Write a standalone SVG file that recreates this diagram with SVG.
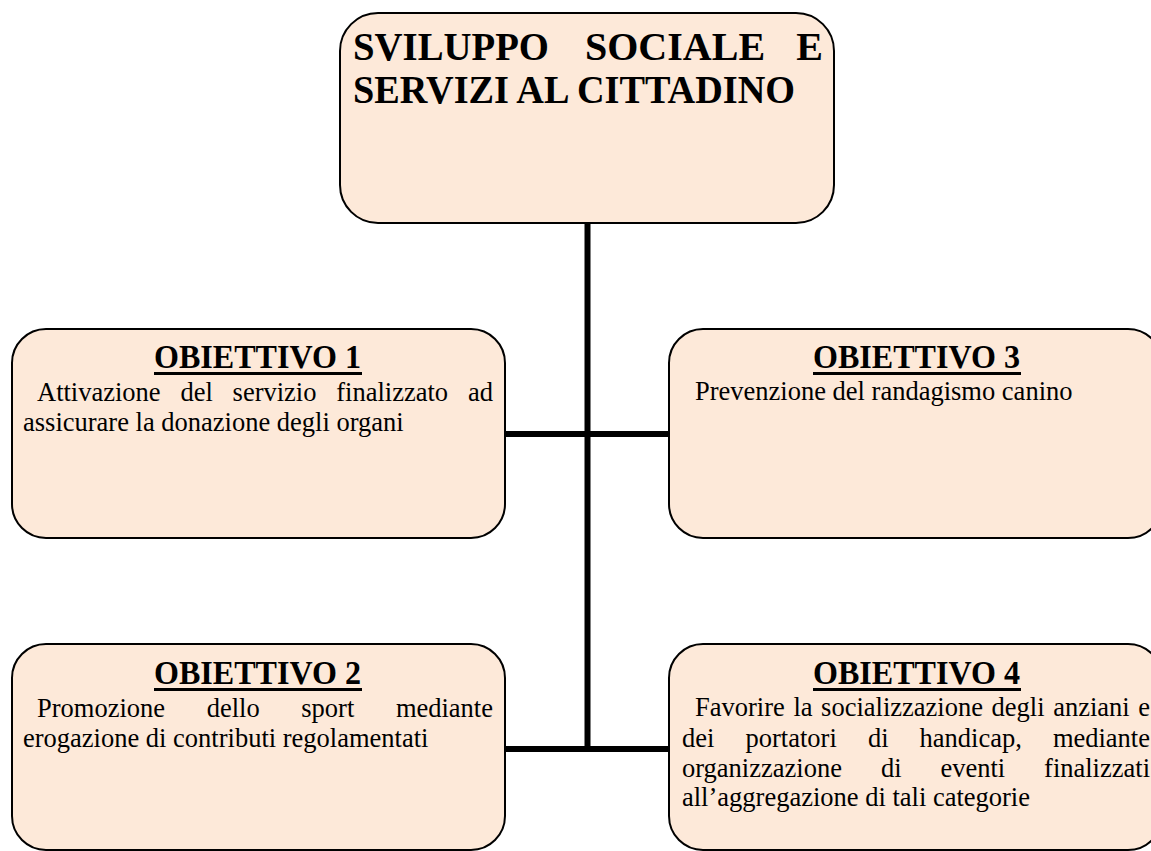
<svg xmlns="http://www.w3.org/2000/svg" width="1151" height="851" viewBox="0 0 1151 851">
<style>
.box{fill:#FDE9D9;stroke:#000;stroke-width:2}
.conn{stroke:#000;stroke-width:6;fill:none}
.title{font-family:"Liberation Serif","Times New Roman",serif;font-weight:bold;font-size:40px;fill:#000}
.head{font-family:"Liberation Serif","Times New Roman",serif;font-weight:bold;font-size:34px;fill:#000}
.body{font-family:"Liberation Serif","Times New Roman",serif;font-size:26.5px;fill:#000}
.ul{fill:#000}
</style>
<rect width="1151" height="851" fill="#fff"/>
<g id="connectors">
<line class="conn" x1="587.5" y1="223" x2="587.5" y2="752"/>
<line class="conn" x1="505" y1="434" x2="669" y2="434"/>
<line class="conn" x1="505" y1="749" x2="669" y2="749"/>
</g>
<g id="root">
<rect class="box" x="340" y="13" width="494" height="210" rx="38" ry="38"/>
<text class="title" y="60"><tspan x="353" textLength="196" lengthAdjust="spacingAndGlyphs">SVILUPPO</tspan><tspan x="585">SOCIALE</tspan><tspan x="823" text-anchor="end">E</tspan></text>
<text class="title" x="353" y="103" textLength="442" lengthAdjust="spacingAndGlyphs">SERVIZI AL CITTADINO</text>
</g>
<g id="obiettivo1">
<rect class="box" x="12" y="329" width="493" height="209" rx="34" ry="34"/>
<text class="head" x="154" y="368" textLength="207" lengthAdjust="spacingAndGlyphs">OBIETTIVO 1</text>
<rect class="ul" x="154" y="372" width="208" height="3"/>
<text class="body" y="401"><tspan x="37">Attivazione</tspan><tspan x="180.4">del</tspan><tspan x="232.6">servizio</tspan><tspan x="336.3">finalizzato</tspan><tspan x="493" text-anchor="end">ad</tspan></text>
<text class="body" x="23" y="431">assicurare la donazione degli organi</text>
</g>
<g id="obiettivo3">
<rect class="box" x="669" y="329" width="493" height="209" rx="34" ry="34"/>
<text class="head" x="813" y="368" textLength="207" lengthAdjust="spacingAndGlyphs">OBIETTIVO 3</text>
<rect class="ul" x="813" y="372" width="208" height="3"/>
<text class="body" x="695" y="400">Prevenzione del randagismo canino</text>
</g>
<g id="obiettivo2">
<rect class="box" x="12" y="644" width="493" height="206" rx="34" ry="34"/>
<text class="head" x="154" y="684" textLength="207" lengthAdjust="spacingAndGlyphs">OBIETTIVO 2</text>
<rect class="ul" x="154" y="688" width="208" height="3"/>
<text class="body" y="717"><tspan x="37">Promozione</tspan><tspan x="206.7">dello</tspan><tspan x="301.3">sport</tspan><tspan x="493" text-anchor="end">mediante</tspan></text>
<text class="body" x="23" y="747">erogazione di contributi regolamentati</text>
</g>
<g id="obiettivo4">
<rect class="box" x="669" y="644" width="493" height="206" rx="34" ry="34"/>
<text class="head" x="813" y="684" textLength="207" lengthAdjust="spacingAndGlyphs">OBIETTIVO 4</text>
<rect class="ul" x="813" y="688" width="208" height="3"/>
<text class="body" y="716"><tspan x="695">Favorire</tspan><tspan x="793.4">la</tspan><tspan x="821.1">socializzazione</tspan><tspan x="991.6">degli</tspan><tspan x="1053.2">anziani</tspan><tspan x="1150" text-anchor="end">e</tspan></text>
<text class="body" y="747"><tspan x="682">dei</tspan><tspan x="745.5">portatori</tspan><tspan x="867.9">di</tspan><tspan x="919.6">handicap,</tspan><tspan x="1150" text-anchor="end">mediante</tspan></text>
<text class="body" y="777"><tspan x="682">organizzazione</tspan><tspan x="881.1">di</tspan><tspan x="940.4">eventi</tspan><tspan x="1150" text-anchor="end">finalizzati</tspan></text>
<text class="body" x="682" y="806">all’aggregazione di tali categorie</text>
</g>
</svg>
